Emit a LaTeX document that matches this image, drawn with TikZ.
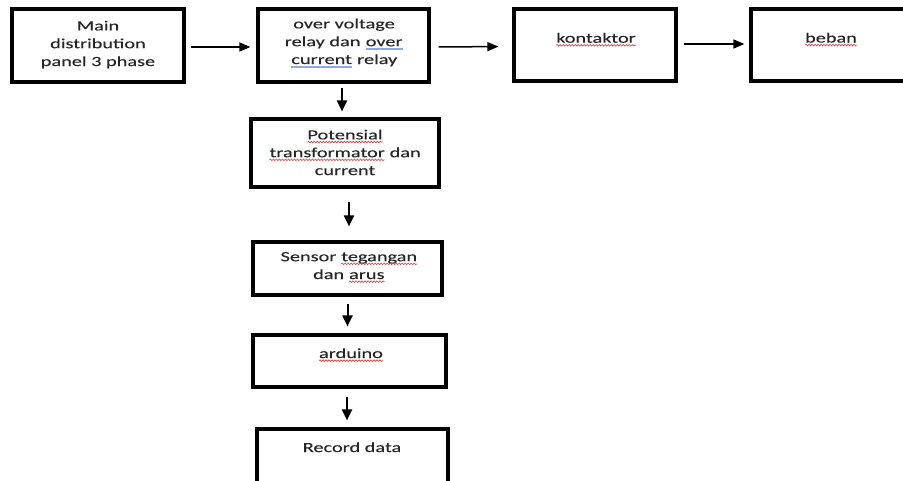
\documentclass[tikz,border=0pt]{standalone}
\usepackage{fontspec}
\setmainfont{Carlito}[FakeStretch=1.45,FakeBold=0.12]
\usetikzlibrary{arrows.meta,decorations.pathmorphing}
\definecolor{spellred}{HTML}{E03A3A}
\definecolor{gramblue}{HTML}{8FAADC}
\definecolor{txtcol}{HTML}{262626}
\newcommand\redwave[1]{\tikz[baseline=(w.base),x=1pt,y=1pt]{\node[inner sep=0pt,outer sep=0pt,anchor=base,text=txtcol](w){#1};\draw[spellred,line width=0.6pt,decorate,decoration={snake,amplitude=0.8pt,segment length=3pt}] ([yshift=-2.6pt]w.base west) -- ([yshift=-2.6pt]w.base east);}}
\newcommand\blueul[1]{\tikz[baseline=(w.base),x=1pt,y=1pt]{\node[inner sep=0pt,outer sep=0pt,anchor=base,text=txtcol](w){#1};\draw[gramblue,line width=1.4pt] ([yshift=-2.8pt]w.base west) -- ([yshift=-2.8pt]w.base east);}}
\begin{document}
\begin{tikzpicture}[x=1pt,y=-1pt,
  box/.style={draw, line width=3.2pt, inner sep=0pt},
  txt/.style={inner sep=0pt, align=center, text=txtcol, font=\fontsize{14}{17.8}\selectfont},
  harr/.style={-{Triangle[length=11pt,width=9pt]}, line width=1.5pt},
  varr/.style={-{Triangle[length=11pt,width=10pt]}, line width=2pt}]
\useasboundingbox (0,0) rectangle (903,480);
\fill[white] (0,0) rectangle (903,480);
% boxes
\node[box, minimum width=172pt, minimum height=73pt] (main) at (98,45.5) {};
\node[box, minimum width=171pt, minimum height=73pt] (ovr) at (343.5,45.5) {};
\node[box, minimum width=162pt, minimum height=72pt] (kont) at (595,45) {};
\node[box, minimum width=159pt, minimum height=72pt] (beban) at (830.5,45) {};
\node[box, minimum width=188pt, minimum height=68pt] (pt) at (345,153) {};
\node[box, minimum width=189pt, minimum height=53pt] (sensor) at (347.5,268.5) {};
\node[box, minimum width=193pt, minimum height=52pt] (ard) at (349.5,361) {};
\node[box, minimum width=191pt, minimum height=61pt] (rec) at (352.5,459.5) {};
% texts (anchor=base is the baseline of the last line)
\node[txt, anchor=base] (mainT) at (98,66) {Main\\distribution\\panel 3 phase};
\node[txt, anchor=base] (ovrT) at (344,64) {over voltage\\relay dan \blueul{over}\\\blueul{current} relay};
\node[txt, anchor=base] (kontT) at (596,42.7) {\redwave{kontaktor}};
\node[txt, anchor=base] (bebanT) at (831,42.5) {\redwave{beban}};
\node[txt, anchor=base] (ptT) at (345,175) {\redwave{Potensial}\\\redwave{transformator} dan\\current};
\node[txt, anchor=base] (sensorT) at (349,279) {Sensor \redwave{tegangan}\\dan \redwave{arus}};
\node[txt, anchor=base] (ardT) at (351,358) {\redwave{arduino}};
\node[txt, anchor=base] (recT) at (352,452) {Record data};
% horizontal arrows
\draw[harr, shorten <=5pt, shorten >=6pt] ([yshift=-1.5pt]main.east) -- ([yshift=-1.5pt]ovr.west);
\draw[harr, shorten <=8pt, shorten >=14pt] ([yshift=-1.5pt]ovr.east) -- ([yshift=-1.5pt]kont.west);
\draw[harr, shorten <=6pt, shorten >=5pt] ([yshift=1pt]kont.east) -- ([yshift=1pt]beban.west);
% vertical arrows
\draw[varr, shorten <=4pt, shorten >=6pt] ([xshift=-1.5pt]ovr.south) -- ([xshift=-1.5pt]ovr.south |- pt.north);
\draw[varr, shorten <=13pt, shorten >=14pt] ([xshift=4pt]pt.south) -- ([xshift=4pt]pt.south |- sensor.north);
\draw[varr, shorten <=7pt, shorten >=7pt] (sensor.south) -- (sensor.south |- ard.north);
\draw[varr, shorten <=8pt, shorten >=7pt] ([xshift=-2.5pt]ard.south) -- ([xshift=-2.5pt]ard.south |- rec.north);
\end{tikzpicture}
\end{document}
